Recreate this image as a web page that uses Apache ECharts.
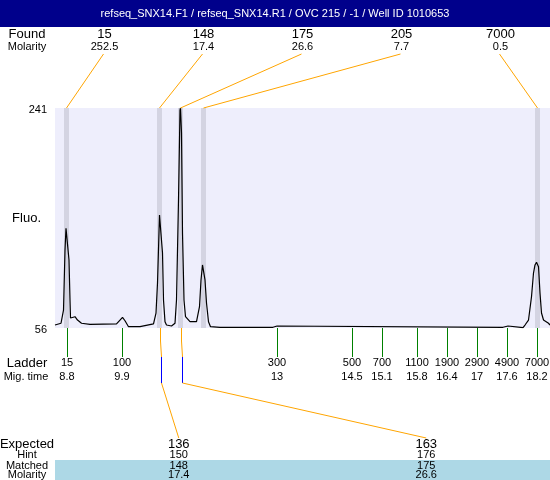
<!DOCTYPE html>
<html><head><meta charset="utf-8">
<script src="https://cdn.jsdelivr.net/npm/echarts@6/dist/echarts.min.js"></script>
<style>html,body{margin:0;padding:0;background:#fff}#c{width:550px;height:480px}</style>
</head><body><div id="c"></div>
<script>
const titleText = 'refseq_SNX14.F1 / refseq_SNX14.R1 / OVC 215 / -1 / Well ID 1010653';
const traceTimes = [8.56,8.68,8.73,8.76,8.78,8.81,8.84,8.86,8.87,8.91,8.96,9.01,9.09,9.26,9.79,9.86,9.91,9.96,10.03,10.26,10.53,10.58,10.61,10.65,10.67,10.71,10.73,10.76,10.79,10.83,10.89,10.96,10.99,11.03,11.06,11.07,11.09,11.11,11.14,11.17,11.21,11.26,11.39,11.45,11.48,11.51,11.53,11.56,11.59,11.63,11.67,11.86,11.89,11.92,12.92,12.94,13.0,13.02,17.52,17.56,17.62,17.66,17.92,17.96,18.03,18.09,18.13,18.16,18.19,18.23,18.26,18.29,18.33,18.36,18.43,18.46];
const traceFluo = [58.5,60.0,71.1,121.6,139.8,139.8,113.2,79.5,64.4,64.2,65.5,62.7,60.0,59.1,59.4,62.7,65.0,62.1,57.1,57.1,59.4,68.6,93.8,151.0,151.0,119.1,79.5,61.3,58.5,60.0,57.7,60.0,79.5,163.6,239.3,241,220.0,135.9,79.5,65.5,65.0,61.3,61.3,73.9,96.4,109.0,109.0,96.4,77.0,61.3,57.1,56.6,57.1,56.6,56.6,57.7,57.7,56.6,56.6,57.7,57.7,56.3,56.3,58.5,62.7,82.3,102.2,109.0,111.2,107.5,85.4,68.6,62.7,62.1,60.0,58.5];
const foundSizes = [15, 148, 175, 205, 7000];
const foundMolarity = [252.5, 17.4, 26.6, 7.7, 0.5];
const foundTimes = [8.79, 10.65, 11.07, 11.53, 18.21];
const ladderSizes = [15, 100, 300, 500, 700, 1100, 1900, 2900, 4900, 7000];
const ladderTimes = [8.8, 9.9, 13, 14.5, 15.1, 15.8, 16.4, 17, 17.6, 18.2];
const expectedSizes = [136, 163];
const hintSizes = [150, 176];
const matchedSizes = [148, 175];
const matchedMolarity = [17.4, 26.6];
const matchedTimes = [10.65, 11.07];
const yTicks = [56, 241];

const FONT = '"Liberation Sans", Arial, sans-serif';
const ORANGE = '#ffa500';
function txt(x, y, s, size, color, align) {
  return {type:'text', x:x, y:y, silent:true, style:{text:s, fill:color||'#000', font: size+'px '+FONT, align: align||'center', verticalAlign:'middle'}};
}

const chart = echarts.init(document.getElementById('c'), null, {renderer:'canvas'});
const option = {
  animation: false,
  grid: {left: 55, top: 108, right: 0, height: 220, show: true, backgroundColor: '#eeeefc', borderWidth: 0, containLabel: false, outerBoundsMode: 'none'},
  xAxis: {
    type: 'value', min: 8.56, max: 18.46,
    axisLine: {show: false}, splitLine: {show: false},
    axisTick: {show: true, customValues: ladderTimes, length: 29, lineStyle: {color: '#008000', width: 1}},
    axisLabel: {
      show: true, customValues: ladderTimes, margin: 28,
      formatter: function (v) {
        let i = ladderTimes.findIndex(t => Math.abs(t - v) < 1e-6);
        return '{a|' + ladderSizes[i] + '}\n{b|' + ladderTimes[i] + '}';
      },
      rich: {a: {fontSize: 11, lineHeight: 14, fontFamily: FONT, color: '#000'}, b: {fontSize: 11, lineHeight: 14, fontFamily: FONT, color: '#000'}}
    }
  },
  yAxis: {
    type: 'value', min: 56, max: 241,
    axisLine: {show: false}, splitLine: {show: false}, axisTick: {show: false},
    axisLabel: {
      customValues: yTicks, margin: 8,
      formatter: v => '{t|' + v + '}',
      rich: {t: {fontSize: 11, fontFamily: FONT, color: '#000', padding: [4, 0, 0, 0]}}
    },
    name: 'Fluo.', nameLocation: 'middle', nameGap: 14, nameRotate: 0, nameMoveOverlap: false,
    nameTextStyle: {fontSize: 13, fontFamily: FONT, color: '#000'}
  },
  graphic: [
    {type:'rect', shape:{x:0, y:0, width:550, height:27}, style:{fill:'#00008b'}, silent:true},
    txt(275, 14, titleText, 11, '#fff'),
    txt(27, 34, 'Found', 13),
    txt(27, 47, 'Molarity', 11),
    txt(27, 363, 'Ladder', 13),
    txt(26, 377, 'Mig. time', 11),
    {type:'rect', shape:{x:55, y:460, width:495, height:20}, style:{fill:'#add8e6'}, silent:true, z:-1},
    txt(27, 444, 'Expected', 13),
    txt(27, 455, 'Hint', 11),
    txt(27, 465.5, 'Matched', 11),
    txt(27, 475, 'Molarity', 11)
  ],
  series: [
    {
      type: 'line', data: traceTimes.map((t, i) => [t, traceFluo[i]]),
      showSymbol: false, symbol: 'none', lineStyle: {color: '#000', width: 1.2}, z: 5, silent: true,
      markArea: {silent: true, itemStyle: {color: '#d4d4e2'}, data: foundTimes.map(t => [{xAxis: t - 0.05}, {xAxis: t + 0.05}])}
    },
    {
      type: 'custom', clip: false, silent: true, z: 6,
      data: foundSizes.map((s, i) => [foundTimes[i], s, foundMolarity[i], i]),
      renderItem: function (params, api) {
        const cs = params.coordSys;
        const i = api.value(3);
        const colX = cs.x + cs.width * (i + 0.5) / foundSizes.length;
        const p = api.coord([api.value(0), 241]);
        return {type: 'group', children: [
          txt(colX, 34, String(foundSizes[i]), 13),
          txt(colX, 47, String(foundMolarity[i]), 11),
          {type: 'line', shape: {x1: colX - 1, y1: 54, x2: p[0], y2: cs.y}, style: {stroke: ORANGE, lineWidth: 1}}
        ]};
      }
    },
    {
      type: 'custom', clip: false, silent: true, z: 6,
      data: expectedSizes.map((s, i) => [matchedTimes[i], s, i]),
      renderItem: function (params, api) {
        const cs = params.coordSys;
        const i = api.value(2);
        const colX = cs.x + cs.width * (i + 0.5) / expectedSizes.length;
        const p = api.coord([api.value(0), 56]);
        const x = Math.round(p[0]) + 0.5;
        const yb = cs.y + cs.height;
        return {type: 'group', children: [
          {type: 'line', shape: {x1: x, y1: yb, x2: x, y2: yb + 13}, style: {stroke: ORANGE, lineWidth: 1}},
          {type: 'line', shape: {x1: x, y1: yb + 13, x2: x + 1, y2: yb + 29}, style: {stroke: ORANGE, lineWidth: 1}},
          {type: 'line', shape: {x1: x + 1, y1: yb + 29, x2: x + 1, y2: yb + 55}, style: {stroke: '#0000ff', lineWidth: 1}},
          {type: 'line', shape: {x1: x + 1, y1: yb + 55, x2: colX, y2: 438}, style: {stroke: ORANGE, lineWidth: 1}},
          txt(colX, 444, String(expectedSizes[i]), 13),
          txt(colX, 455, String(hintSizes[i]), 11),
          txt(colX, 465.5, String(matchedSizes[i]), 11),
          txt(colX, 475, String(matchedMolarity[i]), 11)
        ]};
      }
    }
  ]
};
chart.setOption(option);
</script>
</body></html>
